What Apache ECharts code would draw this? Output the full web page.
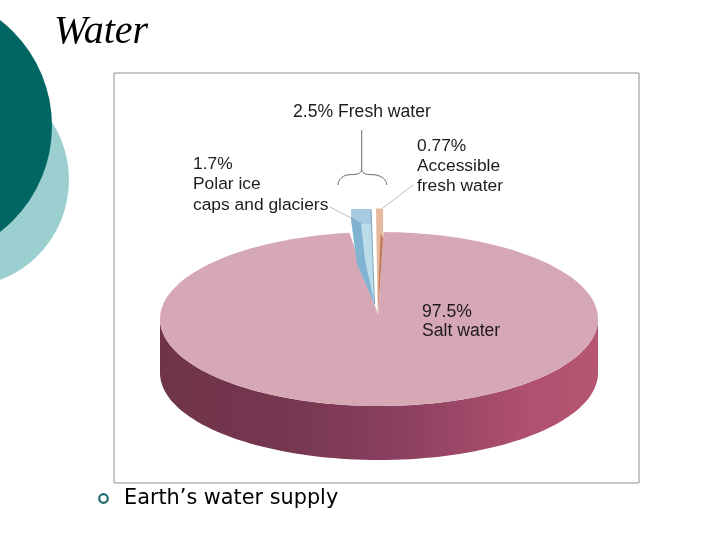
<!DOCTYPE html>
<html><head><meta charset="utf-8">
<style>html,body{margin:0;padding:0;background:#fff}#c{width:720px;height:540px}</style>
<script src="https://cdn.jsdelivr.net/npm/echarts@6/dist/echarts.min.js"></script>
</head><body><div id="c"></div>
<script>
const sliceNames = ['Salt water', 'Polar ice caps and glaciers', 'Accessible fresh water'];
const sliceValues = [97.5, 1.73, 0.77];
const titleText = 'Water';
const bulletText = 'Earth\u2019s water supply';

const C = {x: 379, y: 319, rx: 219, ry: 87, depth: 54, apexY: 315, liftTop: 209, freshCentre: -3.3};
const total = sliceValues.reduce((a, b) => a + b, 0);
const pt = (deg) => {
  const r = deg * Math.PI / 180;
  return [C.x + C.rx * Math.sin(r), C.y - C.ry * Math.cos(r)];
};
const arc = (a0, a1, dy) => {
  const p = [];
  const n = Math.ceil((a1 - a0) / 2);
  for (let i = 0; i <= n; i++) {
    const q = pt(a0 + (a1 - a0) * i / n); p.push([q[0], q[1] + dy]);
  }
  return p;
};
const chart = echarts.init(document.getElementById('c'), null, {renderer: 'canvas'});
const freshDeg = (sliceValues[1] + sliceValues[2]) / total * 360;
const PIE = '#d6a7b5';

function renderSlice(params, api) {
  const idx = params.dataIndex;
  const val = api.value(1);
  const deg = val / total * 360;
  const start = C.freshCentre - freshDeg / 2;
  if (idx === 0) {
    const a0 = C.freshCentre + freshDeg / 2, a1 = a0 + deg;
    const wall = arc(90, 270, 0).concat(arc(90, 270, C.depth).reverse());
    const notchL = pt(a1), notchR = pt(a0);
    return {type: 'group', children: [
      {type: 'polygon', shape: {points: wall}, style: {fill: new echarts.graphic.LinearGradient(0, 0, 1, 0, [
        {offset: 0, color: '#70344a'}, {offset: 0.3, color: '#763750'},
        {offset: 0.55, color: '#8b4060'}, {offset: 0.85, color: '#b1506f'}, {offset: 1, color: '#b55672'}
      ])}},
      {type: 'polygon', shape: {points: [[C.x - 1, C.apexY]].concat(arc(a0, a1, 0))}, style: {fill: PIE}},
      {type: 'polygon', shape: {points: [notchL, [351, 247], [357, 264], [374.5, 304], [C.x - 1, C.apexY]]}, style: {fill: PIE}},
      {type: 'polygon', shape: {points: [notchR, [384, 252], [380.5, 277], [C.x - 1, C.apexY]]}, style: {fill: PIE}}
    ]};
  }
  const xAt = a => C.x + C.rx * Math.sin(a * Math.PI / 180);
  if (idx === 1) {
    const tl = [xAt(start) + 2, C.liftTop];
    const tr = [xAt(start + deg) - 2, C.liftTop];
    const tip = [374.5, 304];
    return {type: 'group', children: [
      {type: 'polygon', shape: {points: [tl, tr, tip, [357, 264], [351, 219]]}, style: {fill: '#bcdcea'}},
      {type: 'polygon', shape: {points: [[351, 219], [361, 224], [365, 260], tip, [357, 264]]}, style: {fill: '#7fb3d1'}},
      {type: 'polygon', shape: {points: [tl, tr, [tr[0] + 0.4, 224], [361, 224], [351, 219]]}, style: {fill: '#a5cae1'}},
      {type: 'line', shape: {x1: tr[0], y1: C.liftTop, x2: tip[0], y2: tip[1]}, style: {stroke: '#7fa7bd', lineWidth: 1}}
    ]};
  }
  const tl = [xAt(start + (sliceValues[1] / total * 360)) + 3, C.liftTop - 0.5];
  const tr = [xAt(start + freshDeg) - 0.5, C.liftTop - 0.5];
  const tip = [377.7, 314];
  return {type: 'group', children: [
    {type: 'polygon', shape: {points: [tl, tr, [tr[0], 238], [380.5, 277], tip]}, style: {fill: '#e6b99e'}},
    {type: 'polygon', shape: {points: [[380.5, 234], [tr[0], 238], [380.5, 277], tip]}, style: {fill: '#bf7c58'}}
  ]};
}

const txt = (text, x, y, size, extra) => ({type: 'text', x, y, z: 20, silent: true, style: Object.assign({
  text, fontFamily: '"Liberation Sans",Arial,sans-serif', fontSize: size, fill: '#1f1a1c',
  verticalAlign: 'top', lineHeight: 19.7}, extra || {})});
const ln = (x1, y1, x2, y2, c) => ({type: 'line', z: 20, shape: {x1, y1, x2, y2}, style: {stroke: c || '#bdbdbd', lineWidth: 1}});
const bez = (x1, y1, cpx1, cpy1, cpx2, cpy2, x2, y2) => ({type: 'bezierCurve', z: 20, shape: {x1, y1, cpx1, cpy1, cpx2, cpy2, x2, y2}, style: {stroke: '#6a6a6a', fill: null, lineWidth: 1}});

chart.setOption({
  animation: false,
  backgroundColor: '#ffffff',
  series: [{
    type: 'custom', coordinateSystem: 'none', renderItem: renderSlice, silent: true,
    data: sliceNames.map((n, i) => ({name: n, value: [i, sliceValues[i]]})),
    z: 5
  }],
  graphic: {elements: [
    {type: 'circle', z: 1, shape: {cx: -38, cy: 180, r: 107}, style: {fill: '#9ccfcf'}},
    {type: 'circle', z: 2, shape: {cx: -82, cy: 126, r: 134}, style: {fill: '#006664'}},
    {type: 'rect', z: 1, shape: {x: 114, y: 73, width: 525, height: 410}, style: {fill: '#ffffff', stroke: '#8f8f8f', lineWidth: 1}},
    ln(361.7, 130, 361.7, 170, '#6a6a6a'),
    bez(361.7, 170, 360, 176, 352, 174, 347, 175),
    bez(347, 175, 342, 176, 338, 180, 338, 185),
    bez(361.7, 170, 363.5, 176, 371, 174, 376, 175),
    bez(376, 175, 382, 176, 386.7, 180, 386.7, 185),
    ln(330, 207, 351, 218),
    ln(351, 218, 361, 224, '#6f97b3'),
    ln(413, 185, 383, 208),
    txt(titleText, 54, 10, 40, {fontFamily: '"Liberation Serif",serif', fontStyle: 'italic', fill: '#000', lineHeight: 44}),
    txt('2.5% Fresh water', 293, 102.5, 17.6),
    txt('1.7%\nPolar ice\ncaps and glaciers', 193, 154, 17.4, {lineHeight: 20.4}),
    txt('0.77%\nAccessible\nfresh water', 417, 136.5, 17.4),
    txt('97.5%\nSalt water', 422, 302, 17.6),
    {type: 'circle', z: 20, shape: {cx: 103.5, cy: 498.5, r: 4.3}, style: {fill: '#fff', stroke: '#1e6b6b', lineWidth: 2.2}},
    txt(bulletText, 124, 486.5, 20.8, {fontFamily: '"DejaVu Sans",Verdana,sans-serif', fill: '#000', lineHeight: 24})
  ]}
});
</script></body></html>
